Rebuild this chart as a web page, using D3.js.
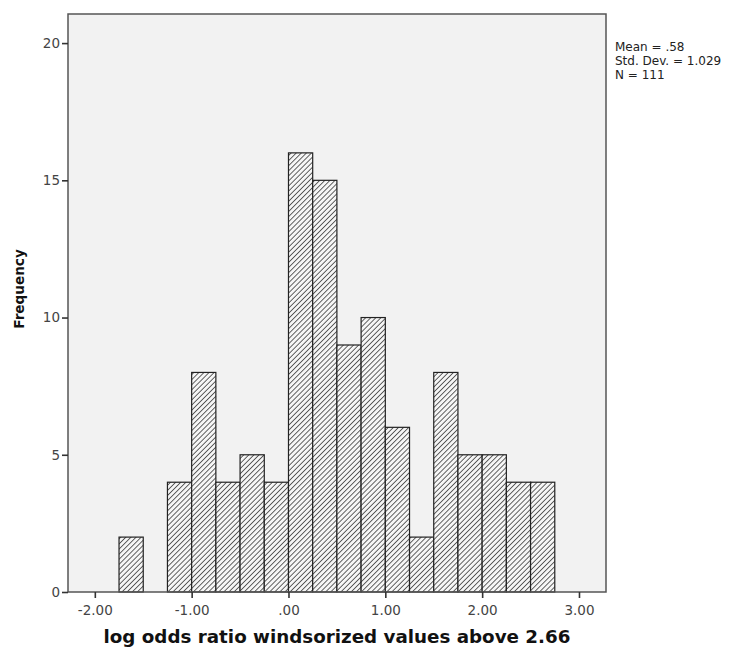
<!DOCTYPE html>
<html lang="en">
  <head>
    <meta charset="utf-8" />
    <title>log odds ratio histogram</title>
    <script type="text/javascript" src="https://cdn.jsdelivr.net/npm/d3@7/dist/d3.min.js"></script>
    <style>
      body { margin: 0; background: #fff; }
    </style>
  </head>
  <body>
    <script>
      // bin lower edges (width .25) and counts
      var binStarts = [-1.75, -1.25, -1.0, -0.75, -0.5, -0.25, 0, 0.25, 0.5, 0.75, 1.0, 1.25, 1.5, 1.75, 2.0, 2.25, 2.5]
      var counts    = [2, 4, 8, 4, 5, 4, 16, 15, 9, 10, 6, 2, 8, 5, 5, 4, 4]
      var binWidth = 0.25
      var xTicks = [-2, -1, 0, 1, 2, 3]
      var xTickLabels = ["-2.00", "-1.00", ".00", "1.00", "2.00", "3.00"]
      var yTicks = [0, 5, 10, 15, 20]
      var statsLines = ["Mean = .58", "Std. Dev. = 1.029", "N = 111"]

      var data = binStarts.map(function(b, i) { return {x0: b, x1: b + binWidth, n: counts[i]} })

      var margin = {top: 14, right: 133, bottom: 57, left: 68}
      var width = 739 - margin.left - margin.right
      var height = 649 - margin.top - margin.bottom
      var font = "'DejaVu Sans', sans-serif"

      var svg = d3.select("body").append("svg")
                  .attr("width", 739)
                  .attr("height", 649)

      var defs = svg.append("defs")
      var pat = defs.append("pattern")
                    .attr("id", "hatch")
                    .attr("patternUnits", "userSpaceOnUse")
                    .attr("width", 3.6)
                    .attr("height", 3.6)
                    .attr("patternTransform", "rotate(45)")
      pat.append("rect").attr("width", 3.6).attr("height", 3.6).attr("fill", "#f6f6f6")
      pat.append("line")
         .attr("x1", 0).attr("y1", 0).attr("x2", 0).attr("y2", 3.6)
         .attr("stroke", "#222").attr("stroke-width", 1.4)

      var g = svg.append("g")
                 .attr("transform", "translate(" + margin.left + "," + margin.top + ")")

      var xScale = d3.scaleLinear().domain([-2.277, 3.279]).range([0, width])
      var yScale = d3.scaleLinear().domain([0, 21.06]).range([height, 0])

      g.append("rect")
       .attr("width", width)
       .attr("height", height)
       .attr("fill", "#f2f2f2")

      g.selectAll("rect.bar")
       .data(data)
       .enter()
       .append("rect")
         .attr("class", "bar")
         .attr("x", function(d) { return xScale(d.x0) })
         .attr("y", function(d) { return yScale(d.n) })
         .attr("width", function(d) { return xScale(d.x1) - xScale(d.x0) })
         .attr("height", function(d) { return height - yScale(d.n) })
         .attr("fill", "url(#hatch)")
         .attr("stroke", "#222")
         .attr("stroke-width", 1.2)

      g.append("rect")
       .attr("width", width)
       .attr("height", height)
       .attr("fill", "none")
       .attr("stroke", "#555")
       .attr("stroke-width", 1.5)

      var xAxis = g.append("g")
         .attr("transform", "translate(0," + height + ")")
         .call(d3.axisBottom(xScale)
                 .tickValues(xTicks)
                 .tickSize(6)
                 .tickPadding(7)
                 .tickFormat(function(d, i) { return xTickLabels[i] }))
      xAxis.select(".domain").remove()

      var yAxis = g.append("g")
         .call(d3.axisLeft(yScale)
                 .tickValues(yTicks)
                 .tickSize(6)
                 .tickPadding(2))
      yAxis.select(".domain").remove()

      svg.selectAll(".tick line").attr("stroke", "#333").attr("stroke-width", 1.6)
      svg.selectAll(".tick text")
         .attr("fill", "#444")
         .style("font-family", font)
         .style("font-size", "13.5px")

      svg.append("text")
         .attr("x", margin.left + width / 2)
         .attr("y", 643)
         .attr("text-anchor", "middle")
         .style("font-family", font)
         .style("font-weight", "bold")
         .style("font-size", "18.3px")
         .attr("fill", "#111")
         .text("log odds ratio windsorized values above 2.66")

      svg.append("text")
         .attr("transform", "translate(24,289) rotate(-90)")
         .attr("text-anchor", "middle")
         .style("font-family", font)
         .style("font-weight", "bold")
         .style("font-size", "13.6px")
         .attr("fill", "#111")
         .text("Frequency")

      svg.append("g")
         .selectAll("text")
         .data(statsLines)
         .enter()
         .append("text")
           .attr("x", 615)
           .attr("y", function(d, i) { return 51 + i * 14 })
           .style("font-family", font)
           .style("font-size", "12px")
           .attr("fill", "#222")
           .text(function(d) { return d })
    </script>
  </body>
</html>
